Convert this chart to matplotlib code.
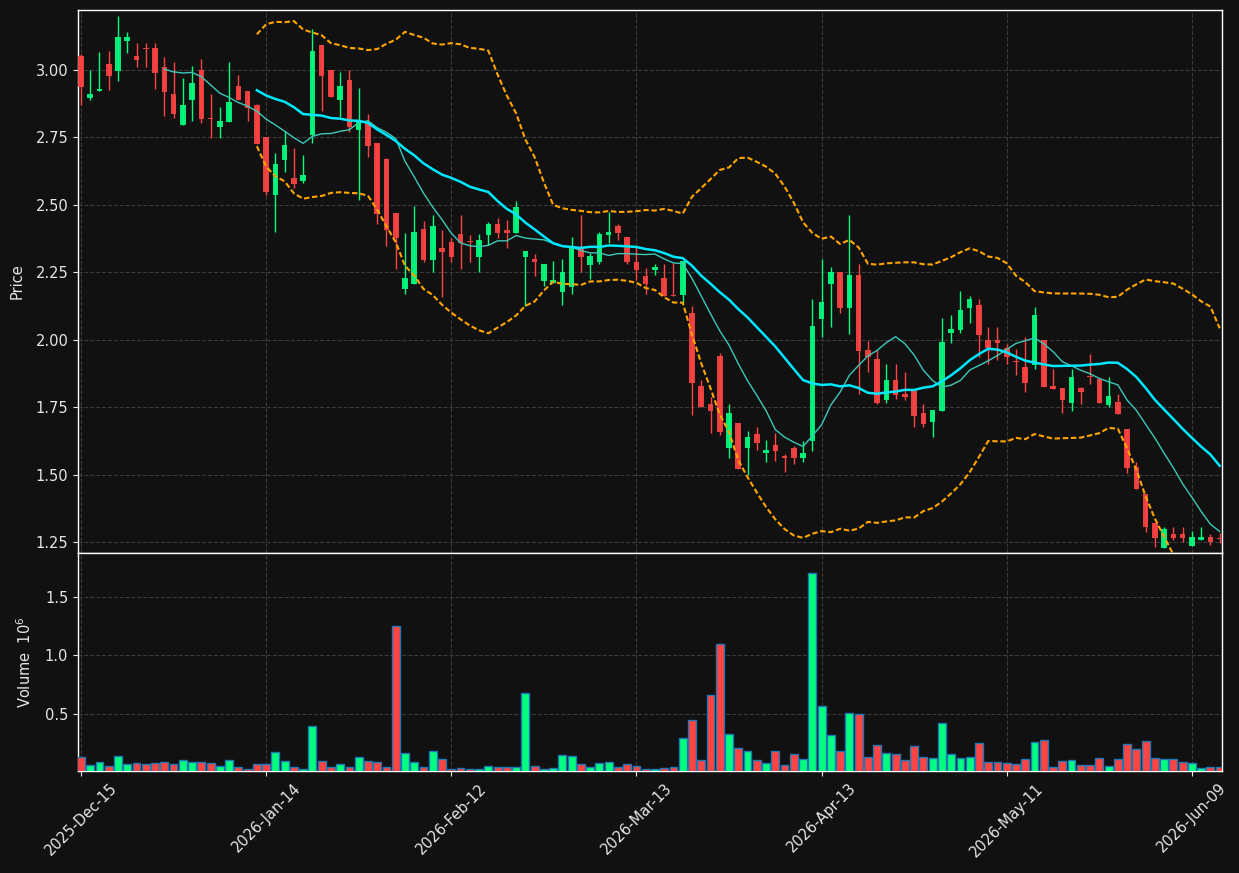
import numpy as np
import pandas as pd
import matplotlib
matplotlib.use("Agg")
import matplotlib.pyplot as plt


BG = "#111111"
UP = "#00ff7f"
DOWN = "#ff4444"
GRID = "#3a3a3a"
TEXT = "#e6e6e6"

START = "2025-12-15"
HOLIDAYS = ["2025-12-25", "2026-01-01", "2026-01-19", "2026-02-16", "2026-04-03", "2026-05-25"]

OPEN = [
    3.053, 2.896, 2.922, 3.022, 2.997, 3.109, 3.052, 3.082, 3.081, 3.010,
    2.911, 2.797, 2.890, 3.000, 2.823, 2.790, 2.809, 2.941, 2.922, 2.870,
    2.752, 2.538, 2.668, 2.600, 2.589, 2.759, 3.093, 3.000, 2.889, 2.963,
    2.778, 2.809, 2.728, 2.669, 2.469, 2.190, 2.209, 2.410, 2.296, 2.341,
    2.363, 2.393, 2.365, 2.309, 2.389, 2.431, 2.407, 2.397, 2.309, 2.300,
    2.219, 2.210, 2.179, 2.197, 2.340, 2.279, 2.290, 2.390, 2.422, 2.381,
    2.289, 2.237, 2.260, 2.229, 2.165, 2.167, 2.099, 1.830, 1.763, 1.941,
    1.599, 1.691, 1.599, 1.652, 1.580, 1.611, 1.570, 1.600, 1.561, 1.627,
    2.079, 2.209, 2.252, 2.120, 2.241, 1.963, 1.930, 1.778, 1.852, 1.801,
    1.811, 1.731, 1.698, 1.738, 2.027, 2.037, 2.120, 2.130, 2.000, 2.000,
    1.972, 1.923, 1.899, 1.907, 2.000, 1.830, 1.822, 1.768, 1.822, 1.865,
    1.854, 1.759, 1.770, 1.670, 1.530, 1.430, 1.321, 1.229, 1.282, 1.282,
    1.238, 1.260, 1.270, 1.265,
]
HIGH = [
    3.060, 2.999, 3.067, 3.070, 3.200, 3.141, 3.099, 3.099, 3.099, 3.047,
    3.028, 2.969, 3.014, 3.041, 2.910, 2.863, 3.028, 2.980, 2.922, 2.875,
    2.752, 2.691, 2.775, 2.710, 2.684, 3.152, 3.093, 3.000, 2.991, 2.999,
    2.932, 2.836, 2.728, 2.673, 2.469, 2.397, 2.497, 2.440, 2.462, 2.407,
    2.377, 2.463, 2.389, 2.391, 2.437, 2.451, 2.443, 2.514, 2.330, 2.319,
    2.281, 2.293, 2.299, 2.380, 2.463, 2.321, 2.401, 2.474, 2.430, 2.381,
    2.346, 2.268, 2.280, 2.280, 2.284, 2.291, 2.127, 1.852, 1.790, 1.951,
    1.762, 1.691, 1.661, 1.679, 1.630, 1.654, 1.578, 1.609, 1.627, 2.152,
    2.299, 2.272, 2.252, 2.463, 2.281, 1.997, 1.963, 1.911, 1.911, 1.880,
    1.811, 1.763, 1.741, 2.080, 2.091, 2.181, 2.163, 2.151, 2.049, 2.049,
    1.985, 1.966, 2.012, 2.121, 2.000, 1.891, 1.822, 1.891, 1.825, 1.948,
    1.854, 1.862, 1.799, 1.670, 1.548, 1.430, 1.321, 1.309, 1.309, 1.309,
    1.293, 1.307, 1.280, 1.284,
]
LOW = [
    2.869, 2.890, 2.921, 2.927, 2.960, 3.063, 3.010, 3.010, 2.928, 2.829,
    2.821, 2.797, 2.810, 2.803, 2.749, 2.749, 2.809, 2.889, 2.810, 2.727,
    2.538, 2.399, 2.621, 2.562, 2.580, 2.729, 2.849, 2.898, 2.825, 2.772,
    2.519, 2.679, 2.430, 2.349, 2.262, 2.170, 2.209, 2.290, 2.251, 2.160,
    2.288, 2.262, 2.290, 2.251, 2.352, 2.377, 2.340, 2.397, 2.124, 2.238,
    2.200, 2.210, 2.128, 2.169, 2.251, 2.226, 2.280, 2.360, 2.369, 2.280,
    2.222, 2.169, 2.241, 2.161, 2.161, 2.136, 1.722, 1.750, 1.654, 1.648,
    1.562, 1.521, 1.500, 1.593, 1.549, 1.552, 1.510, 1.541, 1.549, 1.590,
    2.010, 2.049, 2.099, 2.021, 1.800, 1.880, 1.763, 1.768, 1.780, 1.778,
    1.679, 1.679, 1.640, 1.738, 1.990, 2.027, 2.062, 1.938, 1.911, 1.926,
    1.911, 1.870, 1.809, 1.891, 1.826, 1.820, 1.729, 1.738, 1.762, 1.838,
    1.768, 1.751, 1.726, 1.509, 1.448, 1.290, 1.234, 1.229, 1.259, 1.250,
    1.238, 1.260, 1.241, 1.247,
]
CLOSE = [
    2.937, 2.911, 2.930, 2.979, 3.122, 3.122, 3.038, 3.078, 2.990, 2.920,
    2.838, 2.870, 2.952, 2.820, 2.820, 2.811, 2.882, 2.889, 2.860, 2.727,
    2.549, 2.652, 2.722, 2.579, 2.611, 3.070, 2.978, 2.898, 2.941, 2.789,
    2.809, 2.720, 2.468, 2.407, 2.379, 2.229, 2.399, 2.296, 2.422, 2.327,
    2.309, 2.360, 2.361, 2.370, 2.431, 2.397, 2.397, 2.493, 2.330, 2.290,
    2.281, 2.222, 2.252, 2.342, 2.309, 2.311, 2.393, 2.400, 2.397, 2.290,
    2.260, 2.209, 2.270, 2.161, 2.161, 2.291, 1.840, 1.750, 1.738, 1.660,
    1.729, 1.521, 1.640, 1.620, 1.593, 1.590, 1.561, 1.561, 1.581, 2.052,
    2.141, 2.252, 2.120, 2.241, 1.960, 1.938, 1.767, 1.852, 1.798, 1.790,
    1.720, 1.690, 1.741, 1.993, 2.040, 2.111, 2.151, 2.019, 1.972, 1.990,
    1.938, 1.919, 1.840, 2.093, 1.826, 1.820, 1.778, 1.863, 1.809, 1.861,
    1.768, 1.793, 1.726, 1.527, 1.448, 1.306, 1.268, 1.299, 1.268, 1.268,
    1.269, 1.270, 1.251, 1.261,
]
# volume in millions
VOLUME = [
    0.131, 0.062, 0.088, 0.053, 0.139, 0.070, 0.079, 0.070, 0.079, 0.088,
    0.070, 0.105, 0.088, 0.088, 0.079, 0.053, 0.105, 0.045, 0.027, 0.070,
    0.070, 0.174, 0.096, 0.045, 0.027, 0.398, 0.096, 0.045, 0.070, 0.045,
    0.131, 0.096, 0.088, 0.045, 1.251, 0.165, 0.088, 0.045, 0.182, 0.114,
    0.027, 0.036, 0.027, 0.027, 0.053, 0.045, 0.045, 0.045, 0.674, 0.053,
    0.027, 0.036, 0.148, 0.139, 0.070, 0.045, 0.079, 0.088, 0.045, 0.070,
    0.053, 0.027, 0.027, 0.036, 0.045, 0.295, 0.450, 0.105, 0.657, 1.096,
    0.329, 0.208, 0.182, 0.105, 0.079, 0.182, 0.062, 0.157, 0.114, 1.708,
    0.570, 0.320, 0.182, 0.510, 0.501, 0.131, 0.234, 0.165, 0.157, 0.105,
    0.226, 0.131, 0.122, 0.424, 0.157, 0.122, 0.131, 0.251, 0.088, 0.088,
    0.079, 0.070, 0.114, 0.260, 0.277, 0.045, 0.096, 0.105, 0.062, 0.062,
    0.122, 0.053, 0.114, 0.243, 0.200, 0.269, 0.122, 0.114, 0.114, 0.088,
    0.079, 0.036, 0.045, 0.045,
]

TICK_EVERY = 20
PRICE_TICKS = [1.25, 1.50, 1.75, 2.00, 2.25, 2.50, 2.75, 3.00]
VOLUME_TICKS = [0.5, 1.0, 1.5]


def style_axes(ax):
    ax.set_facecolor(BG)
    for sp in ax.spines.values():
        sp.set_color("white")
        sp.set_linewidth(1.0)
    ax.grid(True, color=GRID, linestyle="--", linewidth=0.8)
    ax.set_axisbelow(True)
    ax.tick_params(colors=TEXT, labelsize=10.5, labelcolor=TEXT)


def draw_candles(ax, x, o, h, l, c):
    colors = [UP if cc >= oo else DOWN for oo, cc in zip(o, c)]
    ax.vlines(x, l, h, colors=colors, linewidth=1.0, zorder=2)
    bottoms = np.minimum(o, c)
    heights = np.maximum(np.abs(c - o), 0.003)
    ax.bar(x, heights, bottom=bottoms, width=0.6, color=colors, alpha=0.92,
           linewidth=0, zorder=3)


def main():
    o = np.array(OPEN)
    h = np.array(HIGH)
    l = np.array(LOW)
    c = np.array(CLOSE)
    v = np.array(VOLUME)
    x = np.arange(len(c))
    dates = pd.bdate_range(START, periods=len(c), freq="C", holidays=HOLIDAYS)

    close = pd.Series(c)
    ma10 = close.rolling(10).mean()
    ma20 = close.rolling(20).mean()
    sd20 = close.rolling(20).std(ddof=0)
    upper = ma20 + 2 * sd20
    lower = ma20 - 2 * sd20

    W, H = 1239, 873
    fig = plt.figure(figsize=(W / 100, H / 100), dpi=100, facecolor=BG)
    ax = fig.add_axes([78 / W, (H - 553) / H, 1144 / W, 543 / H])
    axv = fig.add_axes([78 / W, (H - 771) / H, 1144 / W, 218 / H], sharex=ax)
    style_axes(ax)
    style_axes(axv)

    draw_candles(ax, x, o, h, l, c)
    ax.plot(x, ma10, color="#3cc8b8", linewidth=1.0, zorder=4)
    ax.plot(x, ma20, color="#00e8ff", linewidth=1.8, zorder=4)
    ax.plot(x, upper, color="#ffa500", linewidth=1.5, linestyle=(0, (2.6, 1.3)), zorder=4)
    ax.plot(x, lower, color="#ffa500", linewidth=1.5, linestyle=(0, (2.6, 1.3)), zorder=4)

    ax.set_ylim(1.211, 3.222)
    ax.set_yticks(PRICE_TICKS)
    ax.set_yticklabels([f"{t:.2f}" for t in PRICE_TICKS])
    ax.set_ylabel("Price", color=TEXT, fontsize=10.5, labelpad=8)
    ax.tick_params(axis="x", length=0, labelbottom=False)

    vcolors = [UP if cc >= oo else DOWN for oo, cc in zip(o, c)]
    axv.bar(x, v, width=0.85, color=vcolors, edgecolor="#1f77b4", linewidth=1.0, zorder=3)
    axv.set_ylim(0.3 * v.min(), 1.1 * v.max())
    axv.set_yticks(VOLUME_TICKS)
    axv.set_yticklabels([f"{t:.1f}" for t in VOLUME_TICKS])
    axv.set_ylabel("Volume  $10^6$", color=TEXT, fontsize=10.5, labelpad=8)

    ticks = list(range(0, len(c), TICK_EVERY))
    axv.set_xticks(ticks)
    axv.set_xticklabels([dates[i].strftime("%Y-%b-%d") for i in ticks], rotation=45)
    axv.set_xlim(-0.32, 123.25)

    fig.savefig("out.png", dpi=100, facecolor=BG)
    plt.close(fig)


if __name__ == "__main__":
    main()
